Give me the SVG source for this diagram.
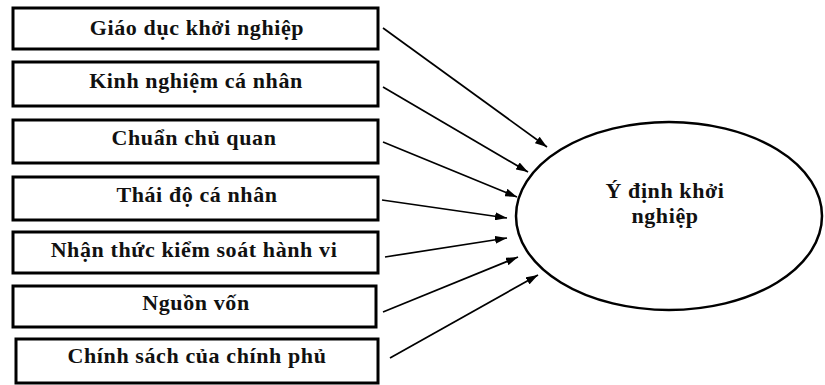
<svg xmlns="http://www.w3.org/2000/svg" width="825" height="385" viewBox="0 0 825 385">
<style>
.box{fill:#fff;stroke:#000;stroke-width:3}
.lbl{font-family:"Liberation Serif","Times New Roman",serif;font-weight:bold;font-size:22px;letter-spacing:0.6px;fill:#111;text-anchor:middle}
.edge{stroke:#000;stroke-width:1.7;fill:none;marker-end:url(#ah)}
</style>
<defs>
<marker id="ah" viewBox="0 0 12 8" refX="12" refY="4" markerWidth="12" markerHeight="8" markerUnits="userSpaceOnUse" orient="auto">
<path d="M0,0 L12,4 L0,8 Z" fill="#000"/>
</marker>
</defs>
<rect width="825" height="385" fill="#fff"/>
<g id="n1"><rect class="box" x="13" y="8" width="365" height="41"/><text class="lbl" x="197" y="35">Giáo dục khởi nghiệp</text></g>
<g id="n2"><rect class="box" x="13" y="62" width="365" height="44"/><text class="lbl" x="196" y="88">Kinh nghiệm cá nhân</text></g>
<g id="n3"><rect class="box" x="13" y="120" width="365" height="43"/><text class="lbl" x="194" y="145">Chuẩn chủ quan</text></g>
<g id="n4"><rect class="box" x="13" y="177" width="365" height="43"/><text class="lbl" x="197" y="202">Thái độ cá nhân</text></g>
<g id="n5"><rect class="box" x="13" y="232" width="365" height="41"/><text class="lbl" x="194" y="257">Nhận thức kiểm soát hành vi</text></g>
<g id="n6"><rect class="box" x="13" y="286" width="363" height="41"/><text class="lbl" x="196" y="310">Nguồn vốn</text></g>
<g id="n7"><rect class="box" x="16" y="339" width="362" height="44"/><text class="lbl" x="197" y="363">Chính sách của chính phủ</text></g>
<g id="target"><ellipse cx="669" cy="216" rx="153" ry="94" fill="#fff" stroke="#000" stroke-width="2.5"/>
<text class="lbl" x="665" y="198">Ý định khởi</text><text class="lbl" x="665" y="223">nghiệp</text></g>
<g id="connectors">
<line class="edge" x1="383" y1="28" x2="547" y2="147"/>
<line class="edge" x1="383" y1="87" x2="528" y2="172"/>
<line class="edge" x1="383" y1="142" x2="517" y2="197"/>
<line class="edge" x1="382" y1="200" x2="507" y2="218"/>
<line class="edge" x1="385" y1="257" x2="507" y2="238"/>
<line class="edge" x1="383" y1="312" x2="518" y2="257"/>
<line class="edge" x1="390" y1="358" x2="538" y2="275"/>
</g>
</svg>
